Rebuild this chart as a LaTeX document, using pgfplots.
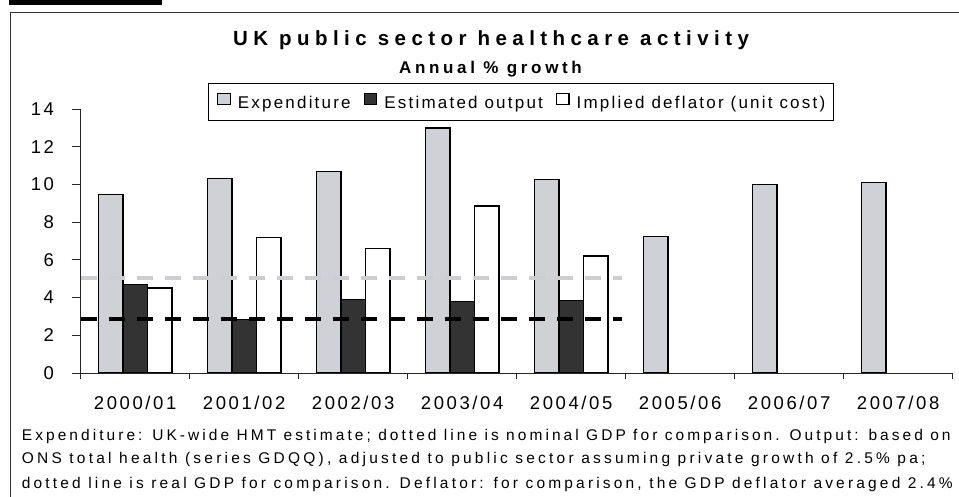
\documentclass[border=0pt]{standalone}
\usepackage{fontspec}
\setmainfont{Liberation Sans}
\newfontfamily\tickfont{Liberation Sans}[LetterSpace=14]
\newfontfamily\legfont{Liberation Sans}[LetterSpace=13]
\newfontfamily\noteA{Liberation Sans}[LetterSpace=19.7]
\newfontfamily\noteB{Liberation Sans}[LetterSpace=20.8]
\newfontfamily\noteC{Liberation Sans}[LetterSpace=20.5]
\newfontfamily\titlefont{Liberation Sans}[LetterSpace=26.5]
\newfontfamily\subfont{Liberation Sans}[LetterSpace=21.5]
\usepackage{pgfplots}
\pgfplotsset{compat=1.18}
\definecolor{expgray}{RGB}{208,209,215}
\definecolor{outdark}{RGB}{51,51,51}
\definecolor{gdpgray}{RGB}{205,205,210}

\begin{document}
\begin{tikzpicture}[x=1pt,y=1pt]
\path[use as bounding box] (0,0) rectangle (959,497);
\fill[black] (9.3,492.3) rectangle (162.3,497);
\draw[line width=1.3pt, black!80] (10.5,0) -- (10.5,484.5) -- (959,484.5);
\node[anchor=base, inner sep=0pt] at (491,451.3) {\titlefont\bfseries\fontsize{20.5}{24}\selectfont UK public sector healthcare activity};
\node[anchor=base, inner sep=0pt] at (490.5,423) {\subfont\bfseries\fontsize{17}{20}\selectfont Annual \% growth};

\begin{axis}[
  at={(80.7pt,124pt)}, anchor=south west,
  scale only axis, width=872pt, height=264pt,
  xmin=-0.5, xmax=7.5, ymin=0, ymax=14,
  axis x line=bottom, axis y line=left,
  axis line style={-, black!85, line width=0.8pt},
  ytick={0,2,...,14},
  minor ytick={0,2,...,14},
  xtick={-0.5,0.5,...,7.5},
  xticklabels={},
  extra x ticks={0,1,2,3,4,5,6,7},
  extra x tick labels={2000/01,2001/02,2002/03,2003/04,2004/05,2005/06,2006/07,2007/08},
  extra x tick style={major tick length=0pt},
  tick align=outside, major tick length=6pt, minor tick length=9pt,
  tick style={black!85, line width=0.8pt},
  /pgf/number format/assume math mode=true,
  tick label style={font=\tickfont\fontsize{18.5}{20}\selectfont},
  yticklabel style={anchor=east, inner sep=0pt, xshift=-20.5pt},
  xticklabel style={anchor=base, inner sep=0pt, yshift=-36.3pt},
  legend columns=3,
  legend cell align=left,
  legend style={at={(0.1463,1.0973)}, anchor=north west, draw=black, line width=0.8pt,
    inner xsep=8.5pt, inner ysep=8.8pt,
    nodes={inner sep=0pt, text height=12.5pt, text depth=3.5pt},
    font=\legfont\fontsize{17}{20}\selectfont,
    /tikz/every odd column/.append style={column sep=7pt},
    /tikz/every even column/.append style={column sep=13pt}},
  legend image code/.code={\draw[#1, line width=1.2pt] (0pt,-0.3pt) rectangle (12.5pt,10.7pt);},
]
\addplot[ybar, bar width=0.225, bar shift=-0.225, fill=expgray, draw=black, line width=1.3pt]
  coordinates {(0,9.45) (1,10.3) (2,10.7) (3,13.0) (4,10.25) (5,7.25) (6,10.0) (7,10.1)};
\addlegendentry{Expenditure}
\addplot[ybar, bar width=0.225, bar shift=0, fill=outdark, draw=black, line width=1.3pt]
  coordinates {(0,4.7) (1,2.85) (2,3.9) (3,3.8) (4,3.85)};
\addlegendentry{Estimated output}
\addplot[ybar, bar width=0.225, bar shift=0.225, fill=white, draw=black, line width=1.3pt]
  coordinates {(0,4.5) (1,7.2) (2,6.6) (3,8.85) (4,6.2)};
\addlegendentry{Implied deflator (unit cost)}
\addplot[forget plot, gdpgray, line width=4pt, dash pattern=on 16.7pt off 11.3pt]
  coordinates {(-0.5,5.05) (4.47,5.05)};
\addplot[forget plot, black, line width=4pt, dash pattern=on 16.7pt off 11.3pt]
  coordinates {(-0.5,2.85) (4.47,2.85)};
\end{axis}

\node[anchor=base west, inner sep=0pt] at (21.7,56.5) {\noteA\fontsize{15.5}{18}\selectfont Expenditure: UK-wide HMT estimate; dotted line is nominal GDP for comparison. Output: based on};
\node[anchor=base west, inner sep=0pt] at (21.7,33) {\noteB\fontsize{15.5}{18}\selectfont ONS total health (series GDQQ), adjusted to public sector assuming private growth of 2.5\% pa;};
\node[anchor=base west, inner sep=0pt] at (21.7,8.7) {\noteC\fontsize{15.5}{18}\selectfont dotted line is real GDP for comparison. Deflator: for comparison, the GDP deflator averaged 2.4\%};
\end{tikzpicture}
\end{document}
